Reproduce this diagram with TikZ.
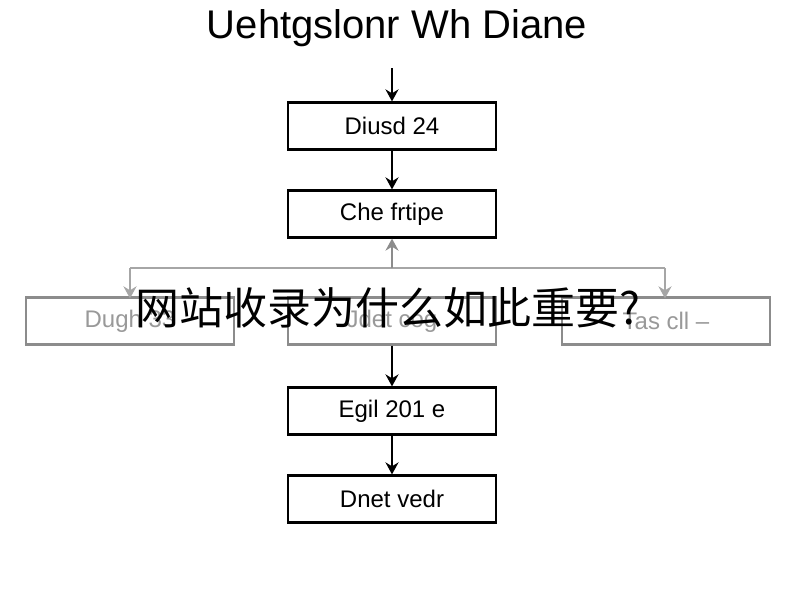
\documentclass[tikz,border=0pt]{standalone}
\usepackage{fontspec}
\setmainfont{Liberation Sans}
\newfontfamily\cjk{Noto Sans CJK SC}
\usetikzlibrary{arrows.meta}
\begin{document}
\begin{tikzpicture}[x=1pt,y=-1pt,
  box/.style={draw=black,line width=2.2pt,minimum width=208pt,minimum height=47pt,font=\fontsize{24}{28}\selectfont,inner sep=0pt},
  gbox/.style={box,draw=black!45,text=black!40},
  arr/.style={-{Stealth[length=12pt,width=13pt]},line width=2.2pt},
  garr/.style={arr,draw=black!35}]
\fill[white] (0,0) rectangle (800,600);
\node (t) at (397,28) {\fontsize{40}{44}\selectfont Uehtgslonr Wh Diane};
\node[box] (b1) at (392,126) {Diusd 24};
\node[box] (b2) at (392,214) {Che frtipe};
\node[gbox] (l) at (130,321) {Dugh 33};
\node[gbox] (m) at (392,321) {Jdet cog};
\node[gbox] (r) at (666,321) {Tas cll –};
\node[box] (b4) at (392,411) {Egil 201 e};
\node[box] (b5) at (392,499) {Dnet vedr};
\coordinate (tb) at (392,68);
\coordinate (hl) at (130,268);
\coordinate (hr) at (665,268);
\coordinate (hm) at (392,268);
\draw[arr] (tb) -- (b1);
\draw[arr] (b1) -- (b2);
\draw[line width=2pt,draw=black!35] (hl) -- (hr);
\draw[garr] (hl) -- ([yshift=-2pt]l.north -| hl);
\draw[garr] (hr) -- ([yshift=-2pt]r.north -| hr);
\draw[arr,draw=black!45] (hm) -- (b2);
\draw[arr] (m) -- (b4);
\draw[arr] (b4) -- (b5);
\node (c) at (388,308) {\cjk\fontsize{44}{48}\selectfont 网站收录为什么如此重要?};
\end{tikzpicture}
\end{document}
